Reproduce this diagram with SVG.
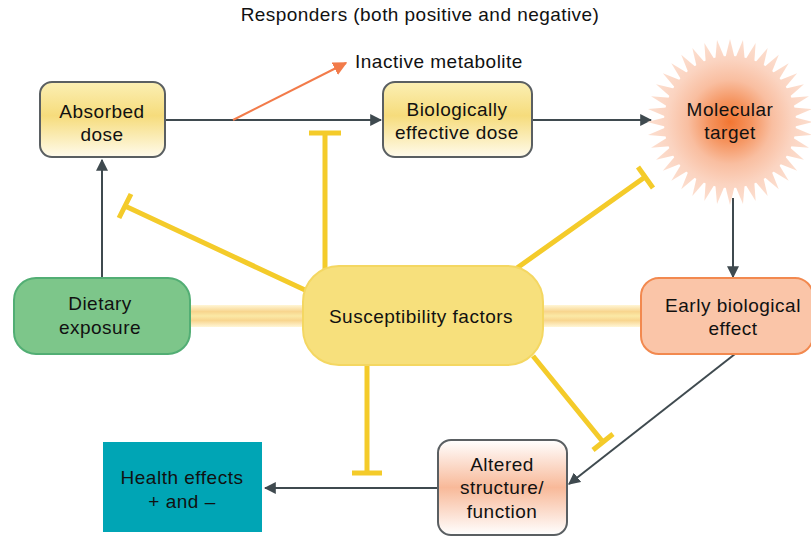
<svg xmlns="http://www.w3.org/2000/svg" xmlns:xlink="http://www.w3.org/1999/xlink" width="811" height="538" viewBox="0 0 811 538">
<style>
text{font-family:"Liberation Sans",Arial,sans-serif;font-size:19px;letter-spacing:0.5px;fill:#111;text-anchor:middle}
.arr{stroke:#3f4a4f;stroke-width:2;fill:none}
.inh{stroke:#f4cb2a;stroke-width:5;fill:none}
.ybox{fill:url(#yg);stroke:#5a5f62;stroke-width:2}
</style>
<defs>
<marker id="ah" viewBox="0 0 10 10" refX="9" refY="5" markerWidth="6" markerHeight="6" orient="auto" markerUnits="strokeWidth"><path d="M0,0L10,5L0,10z" fill="#3f4a4f"/></marker>
<marker id="ao" viewBox="0 0 10 10" refX="9" refY="5" markerWidth="7" markerHeight="7" orient="auto" markerUnits="strokeWidth"><path d="M0,0L10,5L0,10z" fill="#f27b4a"/></marker>
<linearGradient id="yg" x1="0" y1="0" x2="0" y2="1"><stop offset="0" stop-color="#fbefb4"/><stop offset="0.45" stop-color="#f6dc7c"/><stop offset="1" stop-color="#fffbec"/></linearGradient>
<linearGradient id="pg" x1="0" y1="0" x2="0" y2="1"><stop offset="0" stop-color="#ffffff"/><stop offset="0.5" stop-color="#f8b999"/><stop offset="1" stop-color="#ffffff"/></linearGradient>
<linearGradient id="band" x1="0" y1="0" x2="0" y2="1"><stop offset="0" stop-color="#fff6d6"/><stop offset="0.3" stop-color="#f8d58e"/><stop offset="0.5" stop-color="#fbe9a6"/><stop offset="0.7" stop-color="#f8d58e"/><stop offset="1" stop-color="#fff6d6"/></linearGradient>
<radialGradient id="sg" gradientUnits="userSpaceOnUse" cx="0" cy="0" r="84"><stop offset="0" stop-color="#f27632"/><stop offset="0.25" stop-color="#f5945f"/><stop offset="0.5" stop-color="#f9bea0"/><stop offset="0.75" stop-color="#fbd4c1"/><stop offset="1" stop-color="#fcdfd0"/></radialGradient>
<path id="sp" d="M-5.2,-62L0,-83L5.2,-62z" fill="url(#sg)"/>
</defs>

<text x="420" y="21" style="letter-spacing:0.45px">Responders (both positive and negative)</text>

<g id="bands">
<rect x="188" y="305" width="116" height="22" fill="url(#band)"/>
<rect x="541" y="305" width="101" height="22" fill="url(#band)"/>
</g>

<g id="connectors">
<line class="arr" x1="165" y1="120" x2="381" y2="120" marker-end="url(#ah)"/>
<line x1="233" y1="120" x2="346" y2="63" stroke="#f27b4a" stroke-width="2" marker-end="url(#ao)"/>
<line class="arr" x1="532" y1="120" x2="651" y2="120" marker-end="url(#ah)"/>
<line class="arr" x1="733" y1="198" x2="733" y2="277" marker-end="url(#ah)"/>
<line class="arr" x1="102" y1="278" x2="102" y2="160" marker-end="url(#ah)"/>
<line class="arr" x1="735" y1="354" x2="569" y2="484" marker-end="url(#ah)"/>
<line class="arr" x1="437" y1="488" x2="265" y2="488" marker-end="url(#ah)"/>
<g id="inhibitors">
<path class="inh" d="M325,272V133M309,133H341"/>
<path class="inh" d="M305,290L125,206M119,218L131,194"/>
<path class="inh" d="M517,268L645,177M638,167L653,188"/>
<path class="inh" d="M367,362V473M352,473H382"/>
<path class="inh" d="M533,356L603,442M593,450L613,434"/>
</g>
</g>

<g id="absorbed">
<rect class="ybox" x="40" y="82" width="125" height="75" rx="12"/>
<text x="102" y="118">Absorbed</text><text x="102" y="141">dose</text>
</g>
<g id="inactive"><text x="355" y="68" style="text-anchor:start">Inactive metabolite</text></g>
<g id="bed">
<rect class="ybox" x="383" y="82" width="149" height="75" rx="12"/>
<text x="457" y="116">Biologically</text><text x="457" y="139">effective dose</text>
</g>
<g id="molecular" transform="translate(730,122)">
<circle r="66" fill="url(#sg)"/>
<use xlink:href="#sp"/><use xlink:href="#sp" transform="rotate(9)"/><use xlink:href="#sp" transform="rotate(18)"/><use xlink:href="#sp" transform="rotate(27)"/><use xlink:href="#sp" transform="rotate(36)"/><use xlink:href="#sp" transform="rotate(45)"/><use xlink:href="#sp" transform="rotate(54)"/><use xlink:href="#sp" transform="rotate(63)"/><use xlink:href="#sp" transform="rotate(72)"/><use xlink:href="#sp" transform="rotate(81)"/><use xlink:href="#sp" transform="rotate(90)"/><use xlink:href="#sp" transform="rotate(99)"/><use xlink:href="#sp" transform="rotate(108)"/><use xlink:href="#sp" transform="rotate(117)"/><use xlink:href="#sp" transform="rotate(126)"/><use xlink:href="#sp" transform="rotate(135)"/><use xlink:href="#sp" transform="rotate(144)"/><use xlink:href="#sp" transform="rotate(153)"/><use xlink:href="#sp" transform="rotate(162)"/><use xlink:href="#sp" transform="rotate(171)"/><use xlink:href="#sp" transform="rotate(180)"/><use xlink:href="#sp" transform="rotate(189)"/><use xlink:href="#sp" transform="rotate(198)"/><use xlink:href="#sp" transform="rotate(207)"/><use xlink:href="#sp" transform="rotate(216)"/><use xlink:href="#sp" transform="rotate(225)"/><use xlink:href="#sp" transform="rotate(234)"/><use xlink:href="#sp" transform="rotate(243)"/><use xlink:href="#sp" transform="rotate(252)"/><use xlink:href="#sp" transform="rotate(261)"/><use xlink:href="#sp" transform="rotate(270)"/><use xlink:href="#sp" transform="rotate(279)"/><use xlink:href="#sp" transform="rotate(288)"/><use xlink:href="#sp" transform="rotate(297)"/><use xlink:href="#sp" transform="rotate(306)"/><use xlink:href="#sp" transform="rotate(315)"/><use xlink:href="#sp" transform="rotate(324)"/><use xlink:href="#sp" transform="rotate(333)"/><use xlink:href="#sp" transform="rotate(342)"/><use xlink:href="#sp" transform="rotate(351)"/>
<text x="0" y="-6">Molecular</text><text x="0" y="17">target</text>
</g>
<g id="dietary">
<rect x="14" y="278" width="176" height="76" rx="22" fill="#7dc68a" stroke="#52ae74" stroke-width="2"/>
<text x="100" y="310">Dietary</text><text x="100" y="334">exposure</text>
</g>
<g id="susceptibility">
<rect x="303" y="266" width="240" height="99" rx="36" fill="#f7e07c" stroke="#f4d762" stroke-width="2"/>
<text x="421" y="323">Susceptibility factors</text>
</g>
<g id="early">
<rect x="641" y="278" width="172" height="76" rx="18" fill="#fac5a8" stroke="#f2894f" stroke-width="2"/>
<text x="733" y="312">Early biological</text><text x="733" y="335">effect</text>
</g>
<g id="altered">
<rect x="438" y="440" width="129" height="95" rx="13" fill="url(#pg)" stroke="#5a5f62" stroke-width="2"/>
<text x="502" y="471">Altered</text><text x="502" y="494">structure/</text><text x="502" y="518">function</text>
</g>
<g id="health">
<rect x="103" y="442" width="159" height="90" fill="#00a5b5"/>
<text x="182" y="484">Health effects</text><text x="182" y="508">+ and –</text>
</g>
</svg>
